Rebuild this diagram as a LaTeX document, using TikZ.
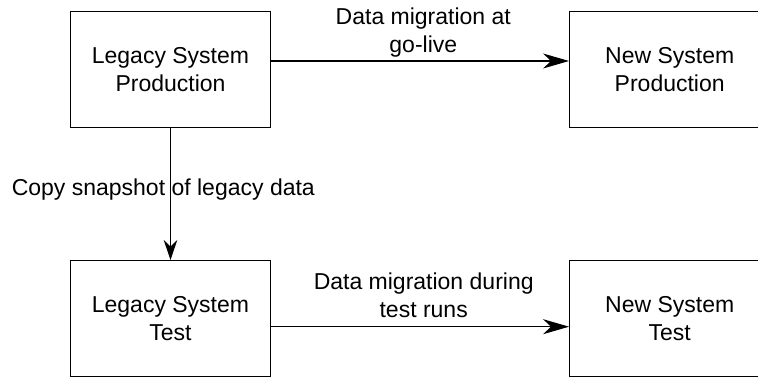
\documentclass[tikz,border=0pt]{standalone}
\usepackage{fontspec}
\setmainfont{Liberation Sans}
\usetikzlibrary{arrows.meta,calc}
\begin{document}
\begin{tikzpicture}[x=1pt,y=1pt,
  txt/.style={font=\fontsize{23}{27.6}\selectfont},
  sysbox/.style={draw=black,line width=1.3pt,minimum width=200pt,minimum height=116pt,inner sep=0pt,align=center,txt},
  lbl/.style={inner sep=0pt,align=center,txt},
  harrow/.style={line width=1.3pt,-{Stealth[length=26pt,width=15pt,inset=8pt]}},
  varrow/.style={line width=1.3pt,-{Stealth[length=20pt,width=13.5pt,inset=6.5pt]}}]
\useasboundingbox (0,0) rectangle (758,381);
\node[sysbox] (lp) at (170.5,311.5) {Legacy System\\Production};
\node[sysbox] (np) at (669.7,311.5) {New System\\Production};
\node[sysbox] (lt) at (170.5,62.3) {Legacy System\\Test};
\node[sysbox] (nt) at (669.7,62.3) {New System\\Test};
\draw[harrow] ($(lp.east)+(0,8.5)$) -- ($(np.west)+(0,8.5)$);
\draw[harrow] ($(lt.east)+(0,-8)$) -- ($(nt.west)+(0,-8)$);
\draw[varrow] (lp.south) -- (lt.north);
\node[lbl,anchor=north] (l1) at (423.3,373.3) {Data migration at\\go-live};
\node[lbl,anchor=north] (l2) at (423.7,108) {Data migration during\\test runs};
\node[lbl,anchor=base] (l3) at (163.3,186) {Copy snapshot of legacy data};
\end{tikzpicture}
\end{document}
